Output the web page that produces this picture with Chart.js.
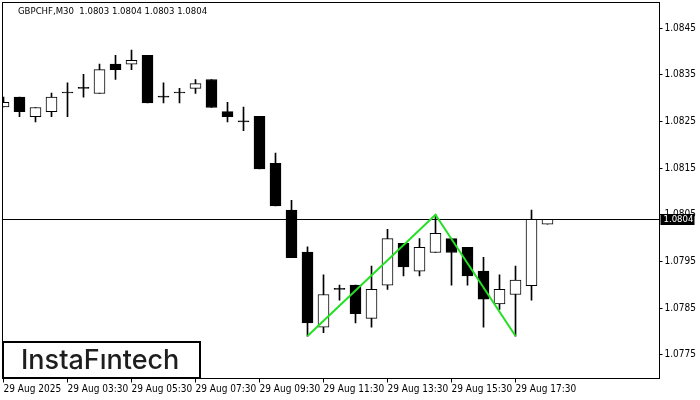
<!DOCTYPE html>
<html>
<head>
<meta charset="utf-8">
<script src="https://cdn.jsdelivr.net/npm/chart.js@4.4.1/dist/chart.umd.min.js"></script>
<style>
  html, body { margin: 0; padding: 0; background: #fff; overflow: hidden; }
</style>
</head>
<body>
<canvas id="chart" width="700" height="400"></canvas>
<script>
// Dados do gráfico (GBPCHF M30)
const symbol = 'GBPCHF';
const timeframe = 'M30';

const opens  = [1.08281, 1.08302, 1.08260, 1.08271, 1.08311, 1.08321, 1.08310, 1.08373, 1.08373, 1.08392,
                1.08302, 1.08311, 1.08321, 1.08340, 1.08271, 1.08249, 1.08261, 1.08160, 1.08060, 1.07970,
                1.07809, 1.07890, 1.07899, 1.07828, 1.07899, 1.07989, 1.07929, 1.07969, 1.07999, 1.07980,
                1.07929, 1.07859, 1.07879, 1.07898, 1.08030];
const highs  = [1.08302, 1.08302, 1.08280, 1.08311, 1.08333, 1.08351, 1.08373, 1.08392, 1.08403, 1.08392,
                1.08333, 1.08321, 1.08340, 1.08340, 1.08291, 1.08281, 1.08261, 1.08182, 1.08081, 1.07981,
                1.07921, 1.07899, 1.07899, 1.07940, 1.08019, 1.07989, 1.07999, 1.08050, 1.07999, 1.07980,
                1.07959, 1.07921, 1.07940, 1.08060, 1.08040];
const lows   = [1.08281, 1.08260, 1.08249, 1.08260, 1.08260, 1.08302, 1.08310, 1.08340, 1.08361, 1.08290,
                1.08290, 1.08290, 1.08310, 1.08280, 1.08249, 1.08230, 1.08148, 1.08069, 1.07958, 1.07790,
                1.07797, 1.07867, 1.07818, 1.07809, 1.07890, 1.07919, 1.07919, 1.07969, 1.07899, 1.07899,
                1.07809, 1.07847, 1.07790, 1.07867, 1.08030];
const closes = [1.08291, 1.08271, 1.08280, 1.08302, 1.08311, 1.08321, 1.08361, 1.08361, 1.08381, 1.08290,
                1.08302, 1.08311, 1.08331, 1.08280, 1.08260, 1.08249, 1.08148, 1.08069, 1.07958, 1.07818,
                1.07879, 1.07890, 1.07838, 1.07890, 1.07999, 1.07938, 1.07980, 1.08010, 1.07969, 1.07919,
                1.07869, 1.07890, 1.07910, 1.08040, 1.08040];

const xTickIdx    = [0, 4, 8, 12, 16, 20, 24, 28, 32];
const xTickLabels = ['29 Aug 2025', '29 Aug 03:30', '29 Aug 05:30', '29 Aug 07:30', '29 Aug 09:30',
                     '29 Aug 11:30', '29 Aug 13:30', '29 Aug 15:30', '29 Aug 17:30'];
const yTicks = [1.0775, 1.0785, 1.0795, 1.0805, 1.0815, 1.0825, 1.0835, 1.0845];

// Padrão desenhado em verde
const patternIdx   = [19, 27, 32];
const patternPrice = [1.0779, 1.0805, 1.0779];

const FONT_FAMILY = "'DejaVu Sans Condensed', 'DejaVu Sans', sans-serif";
const last = closes.length - 1;

// Plugin para moldura, linha de preço, título e logotipo
const mt4Plugin = {
    id: 'mt4',
    beforeDatasetsDraw(chart) {
        const { ctx, chartArea: a, scales: { y } } = chart;
        const py = Math.floor(y.getPixelForValue(closes[last])) + 0.5;
        ctx.save();
        ctx.strokeStyle = '#000';
        ctx.lineWidth = 1;
        ctx.beginPath();
        ctx.moveTo(a.left, py);
        ctx.lineTo(a.right, py);
        ctx.stroke();
        ctx.restore();
    },
    afterDraw(chart) {
        const { ctx, chartArea: a, scales: { y } } = chart;
        ctx.save();
        // moldura
        ctx.strokeStyle = '#000';
        ctx.lineWidth = 1;
        ctx.strokeRect(a.left, a.top, a.right - a.left, a.bottom - a.top);

        // título
        ctx.fillStyle = '#000';
        ctx.font = '9.5px ' + FONT_FAMILY;
        ctx.textBaseline = 'alphabetic';
        ctx.textAlign = 'left';
        const ohlc = [opens[last], highs[last], lows[last], closes[last]].map(v => v.toFixed(4)).join(' ');
        ctx.fillText(symbol + ',' + timeframe + '  ' + ohlc, 18, 13.5);

        // etiqueta do preço atual
        const py = Math.floor(y.getPixelForValue(closes[last])) + 0.5;
        ctx.fillStyle = '#000';
        ctx.fillRect(a.right + 1, py - 5.5, 34, 11);
        ctx.fillStyle = '#fff';
        ctx.textBaseline = 'middle';
        ctx.fillText(closes[last].toFixed(4), a.right + 4, py + 0.5);

        // logotipo
        ctx.fillStyle = '#fff';
        ctx.fillRect(2, 341, 199, 38);
        ctx.strokeStyle = '#000';
        ctx.lineWidth = 2;
        ctx.strokeRect(3, 342, 197, 36);
        ctx.fillStyle = '#1e1e1e';
        ctx.font = '500 27px Inter, Lato, sans-serif';
        ctx.textBaseline = 'alphabetic';
        ctx.fillText('InstaFıntech', 21, 369);
        ctx.restore();
    }
};

const ctx = document.getElementById('chart').getContext('2d');
new Chart(ctx, {
    type: 'bar',
    data: {
        datasets: [
            {
                type: 'line',
                data: patternIdx.map((x, i) => ({ x: x, y: patternPrice[i] })),
                borderColor: '#22e022',
                borderWidth: 2,
                pointRadius: 0,
                tension: 0,
                order: 0
            },
            {
                label: 'corpo',
                data: opens.map((o, i) => ({ x: i, y: [o, closes[i]] })),
                backgroundColor: closes.map((c, i) => c > opens[i] ? '#fff' : '#000'),
                borderColor: '#000',
                borderWidth: 1,
                borderSkipped: false,
                barThickness: 11,
                minBarLength: 1,
                grouped: false,
                order: 1
            },
            {
                label: 'pavio',
                data: lows.map((l, i) => ({ x: i, y: [l, highs[i]] })),
                backgroundColor: '#000',
                borderWidth: 0,
                barThickness: 1,
                grouped: false,
                order: 2
            }
        ]
    },
    options: {
        responsive: false,
        animation: false,
        devicePixelRatio: 1,
        layout: { padding: { left: 2.5, top: 2.5, right: 0, bottom: 0 } },
        plugins: { legend: { display: false }, tooltip: { enabled: false } },
        scales: {
            x: {
                type: 'linear',
                min: -0.0625,
                max: 41,
                offset: false,
                border: { display: false },
                grid: { offset: false, drawOnChartArea: false, drawTicks: true, tickLength: 4, color: '#000', tickColor: '#000' },
                ticks: {
                    autoSkip: false, maxRotation: 0, minRotation: 0, align: 'start', padding: 1,
                    color: '#000', font: { family: FONT_FAMILY, size: 10 },
                    callback: (v, i) => xTickLabels[i]
                },
                afterBuildTicks: s => { s.ticks = xTickIdx.map(v => ({ value: v })); },
                afterFit: s => { s.height = 21.5; s.paddingLeft = 0; s.paddingRight = 0; }
            },
            y: {
                position: 'right',
                min: 1.07699,
                max: 1.08505,
                border: { display: false },
                grid: { drawOnChartArea: false, drawTicks: true, tickLength: 3, color: '#000', tickColor: '#000' },
                ticks: {
                    padding: 2, color: '#000', font: { family: FONT_FAMILY, size: 10 },
                    callback: v => v.toFixed(4)
                },
                afterBuildTicks: s => { s.ticks = yTicks.map(v => ({ value: v })); },
                afterFit: s => { s.width = 40.5; s.paddingTop = 0; s.paddingBottom = 0; }
            }
        }
    },
    plugins: [mt4Plugin]
});
</script>
</body>
</html>
